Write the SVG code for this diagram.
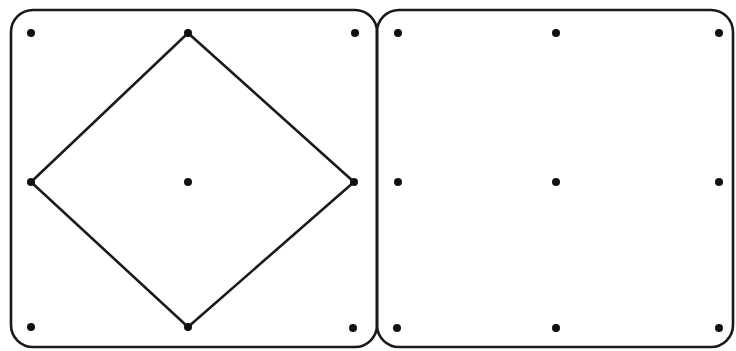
<svg xmlns="http://www.w3.org/2000/svg" width="736" height="351" viewBox="0 0 736 351">
<style>
.board{fill:none;stroke:#1a1a1a;stroke-width:2.6}
.peg{fill:#111}
.band{fill:none;stroke:#1a1a1a;stroke-width:2.6;stroke-linejoin:miter}
</style>
<rect x="0" y="0" width="736" height="351" fill="#ffffff"/>
<g id="board-left">
<rect class="board" x="11" y="10" width="366" height="337" rx="22" ry="22"/>
<polygon class="band" points="188,33 354,182 188,327 31,182"/>
<circle class="peg" cx="31" cy="33" r="4"/>
<circle class="peg" cx="188" cy="33" r="4"/>
<circle class="peg" cx="355" cy="33" r="4"/>
<circle class="peg" cx="31" cy="182" r="4"/>
<circle class="peg" cx="188" cy="182" r="4"/>
<circle class="peg" cx="354" cy="182" r="4"/>
<circle class="peg" cx="31" cy="327" r="4"/>
<circle class="peg" cx="188" cy="327" r="4"/>
<circle class="peg" cx="353" cy="328" r="4"/>
</g>
<g id="board-right">
<rect class="board" x="377" y="10" width="356" height="337" rx="22" ry="22"/>
<circle class="peg" cx="398" cy="33" r="4"/>
<circle class="peg" cx="556" cy="33" r="4"/>
<circle class="peg" cx="719" cy="33" r="4"/>
<circle class="peg" cx="398" cy="182" r="4"/>
<circle class="peg" cx="556" cy="182" r="4"/>
<circle class="peg" cx="719" cy="182" r="4"/>
<circle class="peg" cx="397" cy="328" r="4"/>
<circle class="peg" cx="556" cy="328" r="4"/>
<circle class="peg" cx="719" cy="328" r="4"/>
</g>
<g id="connectors"></g>
</svg>
